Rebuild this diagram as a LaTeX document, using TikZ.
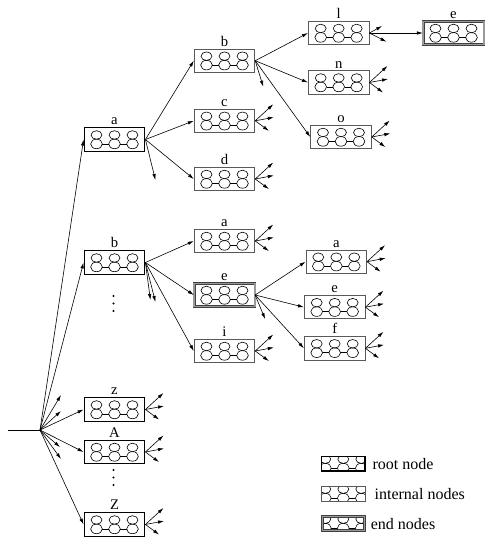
\documentclass[tikz,border=0pt]{standalone}
\usepackage{fontspec}
\setmainfont{Liberation Serif}
\usetikzlibrary{arrows.meta}

\tikzset{
  eights/.style={path picture={
    \begin{scope}[shift={(path picture bounding box.center)},x=1pt,y=1pt,scale=#1]
    \foreach \dx in {-13.5,0,13.5}{
      \draw[draw=black,line width=0.45pt] (\dx,3.4) ellipse (4.1 and 3.2);
      \draw[draw=black,line width=0.45pt] (\dx,-3.3) ellipse (4.4 and 3.6);
    }
    \draw[draw=black,line width=0.45pt] (-9.1,-3.3) -- (-4.4,-3.3) (4.4,-3.3) -- (9.1,-3.3);
    \end{scope}}},
  eights/.default=1,
  boxsize/.style={minimum width=45.5pt,minimum height=17.5pt,inner sep=0pt},
  rootbox/.style={boxsize,draw=black,line width=0.9pt,eights},
  intbox/.style={boxsize,draw=black!65,line width=0.6pt,eights},
  endbox/.style={boxsize,draw=black!75,double=black!40,double distance=1.1pt,line width=0.45pt,eights},
  lab/.style={label={[inner sep=1.5pt,font=\fontsize{11}{13}\selectfont]above:#1}},
  conn/.style={-{Latex[length=4.5pt,width=2.6pt]},line width=0.45pt},
  keytext/.style={anchor=west,inner sep=0pt,font=\fontsize{12}{14}\selectfont}
}

% three short arrows out of a box
\newcommand{\spray}[1]{%
  \draw[conn] (#1.east) -- ++(18,-16.5);
  \draw[conn] (#1.east) -- ++(18.6,-3.5);
  \draw[conn] (#1.east) -- ++(13.6,10);}

\begin{document}
\begin{tikzpicture}[x=0.75pt,y=-0.75pt]
\useasboundingbox (0,0) rectangle (485,537);

% first level
\node[rootbox,lab=a] (ra) at (114.5,139.5) {};
\node[rootbox,lab=b] (rb) at (114.5,262.5) {};
\node[rootbox,lab=z] (rz) at (114.5,409.5) {};
\node[rootbox,lab=A] (rA) at (114.5,452) {};
\node[rootbox,lab=Z] (rZ) at (114.5,524.5) {};
\foreach \y in {296,303.5,311} \fill (113.5,\y) circle (1.2);
\foreach \y in {470,477.5,485} \fill (113.5,\y) circle (1.2);

% second level
\node[intbox,lab=b] (ab) at (224.5,60.7) {};
\node[intbox,lab=c] (ac) at (224.5,120.8) {};
\node[intbox,lab=d] (ad) at (224.5,179) {};
\node[intbox,lab=a] (ba) at (224.5,241) {};
\node[endbox,lab=e] (be) at (224.5,295) {};
\node[intbox,lab=i] (bi) at (224.5,351) {};

% third level
\node[intbox,lab=l] (abl) at (338.7,33) {};
\node[intbox,lab=n] (abn) at (338.7,82.5) {};
\node[intbox,lab=o] (abo) at (341,137) {};
\node[endbox,lab=e] (able) at (453.5,33) {};
\node[intbox,lab=a] (bea) at (336.3,261.7) {};
\node[intbox,lab=e] (bee) at (334.7,307.2) {};
\node[intbox,lab=f] (bef) at (334.7,348.3) {};

% root
\coordinate (root) at (40,430);
\coordinate (in) at (8,430);
\draw[line width=0.45pt] (in) -- (root);
\foreach \n in {ra,rb,rz,rA,rZ} \draw[conn] (root) -- (\n.west);
\draw[conn] (root) -- ++(21,-35);
\draw[conn] (root) -- ++(21,-19);
\draw[conn] (root) -- ++(20,17);
\draw[conn] (root) -- ++(21,29);

% edges
\foreach \n in {ab,ac,ad} \draw[conn] (ra.east) -- (\n.west);
\draw[conn] (ra.east) -- ++(10,40.5);
\foreach \n in {ba,be,bi} \draw[conn] (rb.east) -- (\n.west);
\draw[conn] (rb.east) -- ++(5,37.5);
\draw[conn] (rb.east) -- ++(10,39.5);
\foreach \n in {abl,abn,abo} \draw[conn] (ab.east) -- (\n.west);
\draw[conn] (ab.east) -- ++(8,26);
\foreach \n in {bea,bee,bef} \draw[conn] (be.east) -- (\n.west);
\draw[conn] (be.east) -- ++(10,24);
\draw[conn] (abl.east) -- (able.west);
\draw[conn] (abl.east) -- ++(12.7,-7);
\draw[conn] (abl.east) -- ++(17,8.7);
\foreach \n in {rz,rA,rZ,ac,ad,ba,bi,abn,abo,bea,bee,bef} \spray{\n};

% key
\node[rootbox,minimum width=32.5pt,minimum height=11pt,eights=0.68] (keyroot) at (343.3,463.7) {};
\node[intbox,minimum width=32.5pt,minimum height=11pt,eights=0.68] (keyint) at (343.3,493.7) {};
\node[endbox,minimum width=31.5pt,minimum height=10.5pt,eights=0.68] (keyend) at (343.3,523.7) {};
\node[keytext] (keyroottxt) at ([xshift=5pt]keyroot.east) {root node};
\node[keytext] (keyinttxt) at ([xshift=6.75pt]keyint.east) {internal nodes};
\node[keytext] (keyendtxt) at ([xshift=4.5pt]keyend.east) {end nodes};
\end{tikzpicture}
\end{document}
